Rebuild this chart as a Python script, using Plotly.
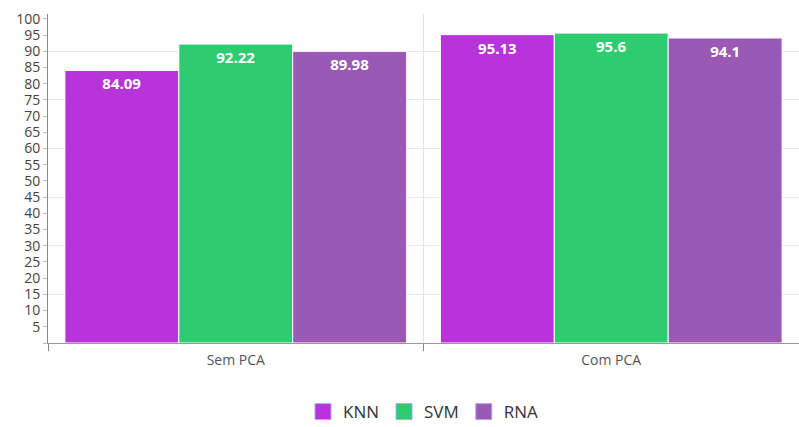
import plotly.graph_objects as go

# Accuracy (%) of each classifier, without and with PCA
categories = ["Sem PCA", "Com PCA"]
models = ["KNN", "SVM", "RNA"]
knn = [84.09, 95.13]
svm = [92.22, 95.6]
rna = [89.98, 94.1]
colors = ["#b833d9", "#2ecc71", "#9b59b6"]

y_ticks = list(range(0, 101, 5))
y_labels = [""] + [str(v) for v in y_ticks[1:]]

font_family = "Open Sans, Segoe UI, sans-serif"

fig = go.Figure()
for name, vals, col in zip(models, [knn, svm, rna], colors):
    fig.add_trace(go.Bar(
        name=name,
        x=categories,
        y=vals,
        text=[f"{v:g}" for v in vals],
        textposition="inside",
        insidetextanchor="end",
        textangle=0,
        textfont=dict(family=font_family, size=15, color="white", weight="bold"),
        marker=dict(color=col, line=dict(color="white", width=1)),
        showlegend=False,
        hoverinfo="skip",
    ))
    # larger square swatch for the legend
    fig.add_trace(go.Scatter(
        name=name,
        x=[None], y=[None],
        mode="markers",
        marker=dict(symbol="square", size=16, color=col,
                    line=dict(color="#a9a9ff", width=1)),
        showlegend=True,
    ))

fig.update_layout(
    width=799,
    height=427,
    margin=dict(l=48, r=0, t=14, b=84),
    paper_bgcolor="white",
    plot_bgcolor="white",
    barmode="group",
    bargap=0.09,
    bargroupgap=0,
    font=dict(family=font_family, color="#444"),
    legend=dict(
        orientation="h",
        x=0.5, xanchor="center",
        yref="container", y=0.035, yanchor="middle",
        font=dict(size=17, color="#333"),
        itemwidth=30,
        tracegroupgap=0,
    ),
    xaxis=dict(
        tickson="boundaries",
        ticks="outside",
        ticklen=7,
        tickcolor="#888",
        showgrid=True,
        gridcolor="#e3e3e3",
        showline=True,
        linecolor="#999",
        tickfont=dict(size=14, color="#555"),
        ticklabelstandoff=4,
        range=[-0.5, 1.5],
    ),
    yaxis=dict(
        range=[0, 101.5],
        tickvals=y_ticks,
        ticktext=y_labels,
        ticks="outside",
        ticklen=4,
        tickcolor="#bbb",
        showgrid=False,
        showline=True,
        linecolor="#888",
        zeroline=False,
        tickfont=dict(size=14, color="#444"),
        minor=dict(dtick=15, tick0=0, showgrid=True, gridcolor="#e8e8e8", ticks=""),
    ),
)

fig.write_html("out.html")
